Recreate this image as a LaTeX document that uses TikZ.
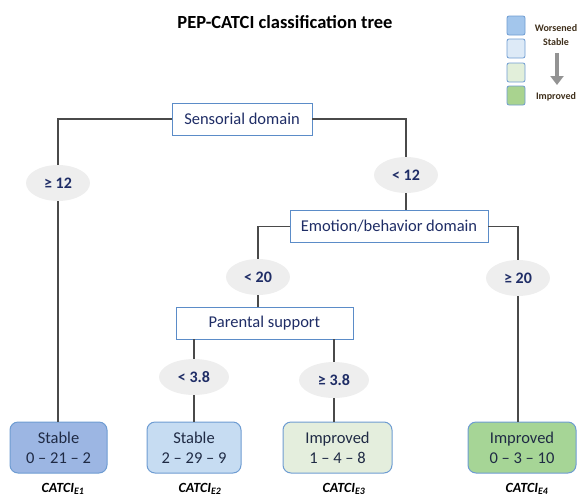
\documentclass[tikz,border=0pt]{standalone}
\usepackage{fontspec}
\setmainfont{Carlito}
\usetikzlibrary{shapes.geometric,arrows.meta}
\definecolor{navy}{HTML}{1F2D66}
\definecolor{splitborder}{HTML}{5B8CC8}
\definecolor{condgray}{HTML}{EEEEEE}
\definecolor{linegray}{HTML}{4A4A4A}
\definecolor{leaftext}{HTML}{1F2A44}
\definecolor{leafborder}{HTML}{6E9CD2}
\definecolor{fillA}{HTML}{9CB6E3}
\definecolor{fillB}{HTML}{C6DCF2}
\definecolor{fillC}{HTML}{E4EEDD}
\definecolor{fillD}{HTML}{A6D596}
\definecolor{legA}{HTML}{A3C6EC}
\definecolor{legB}{HTML}{DDEAF7}
\definecolor{legC}{HTML}{E2EFDA}
\definecolor{legD}{HTML}{A9D38F}
\definecolor{legtext}{HTML}{40301C}
\begin{document}
\begin{tikzpicture}[x=1pt,y=-1pt,
  split/.style={draw=splitborder, fill=white, line width=0.9pt, minimum height=32pt, inner sep=0pt, font=\fontsize{16.5}{19}\selectfont, text=navy},
  cond/.style={ellipse, fill=condgray, minimum width=64pt, minimum height=36pt, inner sep=0pt, font=\bfseries\fontsize{16}{18}\selectfont, text=navy},
  leaf/.style={draw=leafborder, rounded corners=8pt, line width=1pt, minimum height=51pt, inner sep=0pt, align=center, font=\fontsize{16.5}{20}\selectfont, text=leaftext},
  catci/.style={font=\bfseries\itshape\fontsize{14}{16}\selectfont, text=black},
  conn/.style={draw=linegray, line width=1.5pt},
  legsq/.style={draw=leafborder, rounded corners=2pt, line width=0.8pt, minimum width=18pt, minimum height=19pt, inner sep=0pt},
  legtxt/.style={font=\bfseries\fontsize{10}{12}\selectfont, text=legtext}]
\useasboundingbox (0,0) rectangle (581,496);

% title
\node[font=\bfseries\fontsize{18.5}{22}\selectfont] (title) at (285,22) {PEP-CATCI classification tree};

% legend
\node[legsq, fill=legA] (q1) at (516,25.5) {};
\node[legsq, fill=legB] (q2) at (516,48.5) {};
\node[legsq, fill=legC] (q3) at (516,72.5) {};
\node[legsq, fill=legD] (q4) at (516,95.5) {};
\node[legtxt] (tw) at (556,28) {Worsened};
\node[legtxt] (ts) at (556,42) {Stable};
\node[legtxt] (ti) at (556,97) {Improved};
\coordinate (a1) at (557,53);
\coordinate (a2) at (557,85);
\draw[draw=gray!85, line width=4pt, -{Triangle[width=13pt,length=9pt]}] (a1) -- (a2);

% split nodes
\node[split, minimum width=140pt] (sens) at (242,119) {Sensorial domain};
\node[split, minimum width=198pt] (emo) at (389,226.5) {Emotion/behavior domain};
\node[split, minimum width=177pt] (par) at (264.5,323) {Parental support};

% conditions
\node[cond] (c12a) at (58,183) {≥ 12};
\node[cond] (c12b) at (406,175) {< 12};
\node[cond] (c20a) at (258,277) {< 20};
\node[cond] (c20b) at (518,278) {≥ 20};
\node[cond, minimum width=70pt] (c38a) at (194,377) {< 3.8};
\node[cond, minimum width=70pt] (c38b) at (334,380) {≥ 3.8};

% leaves
\node[leaf, fill=fillA, minimum width=97pt] (l1) at (58.5,447.5) {Stable\\0 – 21 – 2};
\node[leaf, fill=fillB, minimum width=94pt] (l2) at (194,447.5) {Stable\\2 – 29 – 9};
\node[leaf, fill=fillC, minimum width=109pt] (l3) at (337.5,447.5) {Improved\\1 – 4 – 8};
\node[leaf, fill=fillD, minimum width=108pt] (l4) at (522,447.5) {Improved\\0 – 3 – 10};

% labels
\node[catci] (n1) at (63,489) {CATCI\textsubscript{E1}};
\node[catci] (n2) at (200,489) {CATCI\textsubscript{E2}};
\node[catci] (n3) at (344,489) {CATCI\textsubscript{E3}};
\node[catci] (n4) at (527,489) {CATCI\textsubscript{E4}};

% connectors
\draw[conn] (sens.west) -| (c12a);
\draw[conn] (c12a) -- (c12a |- l1.north);
\draw[conn] (sens.east) -| (c12b);
\draw[conn] (c12b) -- (c12b |- emo.north);
\draw[conn] (emo.west) -| (c20a);
\draw[conn] (c20a) -- (c20a |- par.north);
\draw[conn] (emo.east) -| (c20b);
\draw[conn] (c20b) -- (c20b |- l4.north);
\draw[conn] (c38a |- par.south) -- (c38a);
\draw[conn] (c38a) -- (c38a |- l2.north);
\draw[conn] (c38b |- par.south) -- (c38b);
\draw[conn] (c38b) -- (c38b |- l3.north);
\end{tikzpicture}
\end{document}
